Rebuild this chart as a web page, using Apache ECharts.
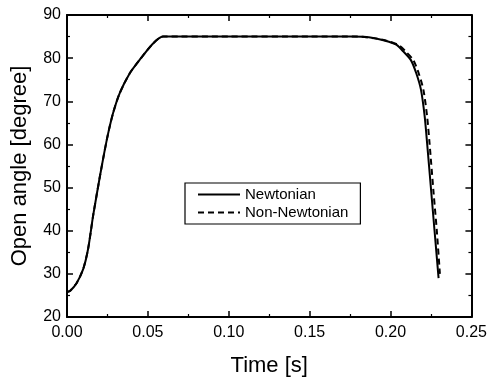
<!DOCTYPE html>
<html><head><meta charset="utf-8">
<script src="https://cdn.jsdelivr.net/npm/echarts@6/dist/echarts.min.js"></script>
<style>html,body{margin:0;padding:0;background:#fff}#c{width:490px;height:382px}</style>
</head><body><div id="c"></div>
<script>
const xTicks = [0.00, 0.05, 0.10, 0.15, 0.20, 0.25];
const yTicks = [20, 30, 40, 50, 60, 70, 80, 90];
const seriesNames = ['Newtonian', 'Non-Newtonian'];
const newtonianT = [0, 0.002, 0.006, 0.010, 0.013, 0.0162, 0.0203, 0.0229, 0.0254, 0.0285, 0.0326, 0.0388, 0.0449, 0.0532, 0.0593, 0.10, 0.15, 0.175, 0.185, 0.193, 0.199, 0.204, 0.208, 0.2125, 0.2159, 0.2188, 0.2211, 0.2226, 0.2252, 0.2272, 0.2297];
const newtonianV = [25.8, 26.1, 27.9, 31.1, 35.7, 43.6, 52.5, 57.8, 62.5, 67.3, 71.9, 76.5, 79.6, 83.4, 85, 85, 85, 85, 84.9, 84.4, 83.8, 83, 81.5, 79.6, 76.5, 72.7, 66.5, 60.3, 48.8, 40, 29];
const nonNewtT = [0, 0.002, 0.006, 0.010, 0.013, 0.0162, 0.0203, 0.0229, 0.0254, 0.0285, 0.0326, 0.0388, 0.0449, 0.0532, 0.0593, 0.10, 0.15, 0.18, 0.19, 0.198, 0.205, 0.210, 0.214, 0.2174, 0.2203, 0.2226, 0.2241, 0.2266, 0.2286, 0.2305];
const nonNewtV = [25.8, 26.1, 27.9, 31.1, 35.7, 43.6, 52.5, 57.8, 62.5, 67.3, 71.9, 76.5, 79.6, 83.4, 85, 85, 85, 85, 84.6, 84, 83, 81.3, 79.6, 76.5, 72.7, 66.5, 60.3, 48.8, 40, 30];

const font = 'Liberation Sans, Arial, sans-serif';
const chart = echarts.init(document.getElementById('c'));
const axisCommon = {
  axisLine: {show: true, onZero: false, lineStyle: {color: '#000', width: 2}},
  axisTick: {show: true, inside: true, length: 6, lineStyle: {color: '#000', width: 1.5}},
  minorTick: {show: true, splitNumber: 2, length: 3, lineStyle: {color: '#000', width: 1.2}},
  splitLine: {show: false}
};
chart.setOption({
  animation: false,
  grid: {left: 67, right: 17, top: 15, bottom: 64, containLabel: false},
  legend: {
    orient: 'vertical', left: 185, top: 183,
    data: seriesNames,
    itemWidth: 42, itemHeight: 12, itemGap: 3,
    itemStyle: {opacity: 0},
    borderColor: '#000', borderWidth: 1.2, borderRadius: 0,
    padding: [4, 12, 4, 12],
    textStyle: {fontFamily: font, fontSize: 15, color: '#000'}
  },
  xAxis: [
    Object.assign({type: 'value', min: 0, max: 0.25, interval: 0.05, position: 'bottom',
      name: 'Time [s]', nameLocation: 'middle', nameGap: 38,
      nameTextStyle: {fontFamily: font, fontSize: 22, color: '#000'},
      axisLabel: {fontFamily: font, fontSize: 16, color: '#000', margin: 8,
        formatter: v => { const i = xTicks.findIndex(t => Math.abs(t - v) < 1e-9); return i >= 0 ? xTicks[i].toFixed(2) : ''; }}
    }, axisCommon),
    Object.assign({type: 'value', min: 0, max: 0.25, interval: 0.05, position: 'top', axisLabel: {show: false}}, axisCommon)
  ],
  yAxis: [
    Object.assign({type: 'value', min: 20, max: 90, interval: 10, position: 'left',
      name: 'Open angle [degree]', nameLocation: 'middle', nameGap: 36,
      nameTextStyle: {fontFamily: font, fontSize: 22, color: '#000'},
      axisLabel: {fontFamily: font, fontSize: 16, color: '#000', margin: 6,
        formatter: v => yTicks.includes(v) ? String(v) : ''}
    }, axisCommon),
    Object.assign({type: 'value', min: 20, max: 90, interval: 10, position: 'right', axisLabel: {show: false}}, axisCommon)
  ],
  series: [
    {name: seriesNames[0], type: 'line', symbol: 'none', smooth: 0.25,
     data: newtonianT.map((t, i) => [t, newtonianV[i]]),
     lineStyle: {color: '#000', width: 2, type: 'solid'}, itemStyle: {color: '#000'}},
    {name: seriesNames[1], type: 'line', symbol: 'none', smooth: 0.25,
     data: nonNewtT.map((t, i) => [t, nonNewtV[i]]),
     lineStyle: {color: '#000', width: 2, type: [6, 4]}, itemStyle: {color: '#000'}}
  ]
});
</script></body></html>
